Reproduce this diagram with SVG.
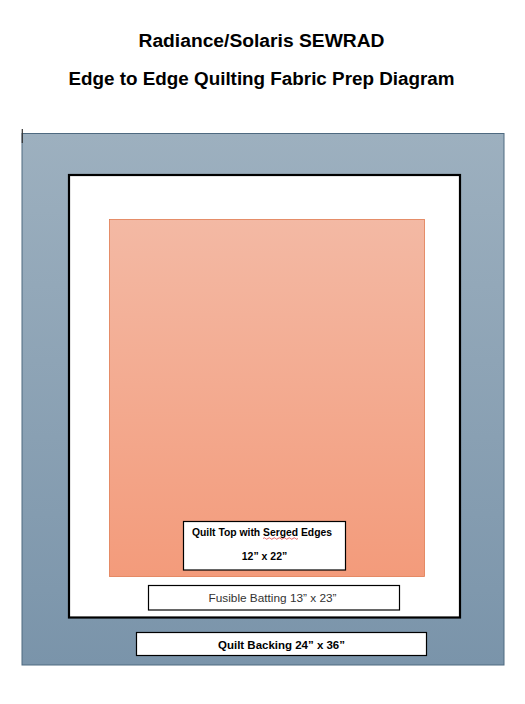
<svg xmlns="http://www.w3.org/2000/svg" width="525" height="704" viewBox="0 0 525 704">
<style>
.t{font-family:"Liberation Sans",Arial,sans-serif;fill:#000}
.b{font-weight:bold}
.lbl{fill:#fff;stroke:#000;stroke-width:1.2}
</style>
<defs>
<linearGradient id="gb" x1="0" y1="0" x2="0" y2="1">
<stop offset="0" stop-color="#9DB0BF"/>
<stop offset="1" stop-color="#7A94AA"/>
</linearGradient>
<linearGradient id="gs" x1="0" y1="0" x2="0" y2="1">
<stop offset="0" stop-color="#F3B9A4"/>
<stop offset="1" stop-color="#F39B7B"/>
</linearGradient>
</defs>
<rect width="525" height="704" fill="#fff"/>
<g id="title">
<text class="t b" x="261.5" y="47" font-size="18" text-anchor="middle" textLength="246" lengthAdjust="spacingAndGlyphs">Radiance/Solaris SEWRAD</text>
<text class="t b" x="261.5" y="85" font-size="18" text-anchor="middle" textLength="386" lengthAdjust="spacingAndGlyphs">Edge to Edge Quilting Fabric Prep Diagram</text>
</g>
<g id="backing">
<rect x="22" y="133.5" width="482" height="531.5" fill="url(#gb)" stroke="#4E6A80" stroke-width="1"/>
<line x1="22.3" y1="129" x2="22.3" y2="143" stroke="#333" stroke-width="1.2"/>
</g>
<g id="batting">
<rect x="69" y="175" width="391" height="442.5" fill="#fff" stroke="#000" stroke-width="2.2"/>
</g>
<g id="quilt-top">
<rect x="109.5" y="219.5" width="315" height="357" fill="url(#gs)" stroke="#E07A50" stroke-width="0.8"/>
</g>
<g id="label-top">
<rect class="lbl" x="183.5" y="521.5" width="162" height="48.5"/>
<text class="t b" x="262" y="535.5" font-size="10" text-anchor="middle" textLength="140" lengthAdjust="spacingAndGlyphs">Quilt Top with Serged Edges</text>
<path d="M263,538.5 q1.25,-1.5 2.5,0 t2.5,0 t2.5,0 t2.5,0 t2.5,0 t2.5,0 t2.5,0 t2.5,0 t2.5,0 t2.5,0 t2.5,0 t2.5,0 t2.5,0 t2.5,0" fill="none" stroke="#E02020" stroke-width="0.7"/>
<text class="t b" x="264.5" y="560" font-size="10" text-anchor="middle" textLength="45.5" lengthAdjust="spacingAndGlyphs">12” x 22”</text>
</g>
<g id="label-batting">
<rect class="lbl" x="148.5" y="585.5" width="251" height="24.5"/>
<text class="t" x="272.5" y="602" font-size="10.5" style="fill:#333" text-anchor="middle" textLength="128" lengthAdjust="spacingAndGlyphs">Fusible Batting 13” x 23”</text>
</g>
<g id="label-backing">
<rect class="lbl" x="136.5" y="632.5" width="290" height="23"/>
<text class="t b" x="281.5" y="648.5" font-size="10.5" text-anchor="middle" textLength="127" lengthAdjust="spacingAndGlyphs">Quilt Backing 24” x 36”</text>
</g>
<g id="connectors"></g>
</svg>
